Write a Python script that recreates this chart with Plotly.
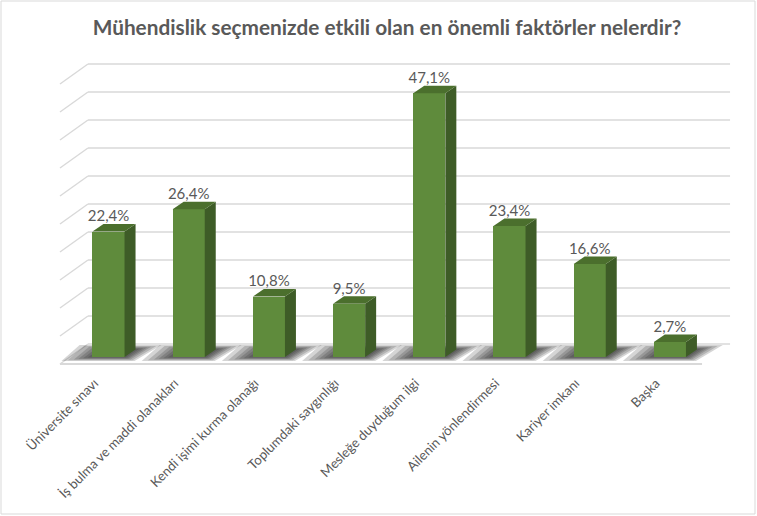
import plotly.graph_objects as go

# Survey results: factors that influenced choosing engineering (%)
categories = [
    "Üniversite sınavı",
    "İş bulma ve maddi olanakları",
    "Kendi işimi kurma olanağı",
    "Toplumdaki saygınlığı",
    "Mesleğe duyduğum ilgi",
    "Ailenin yönlendirmesi",
    "Kariyer imkanı",
    "Başka",
]
values = [22.4, 26.4, 10.8, 9.5, 47.1, 23.4, 16.6, 2.7]
grid_values = [0, 5, 10, 15, 20, 25, 30, 35, 40, 45, 50]

W, H = 757, 516
ML, MR, MT, MB = 40, 17, 55, 150
plot_w = W - ML - MR
plot_h = H - MT - MB
PX_X = 80.2   # pixels per category step
PX_Y = 5.6    # pixels per percent

x0 = -(108.5 - ML) / PX_X
x1 = x0 + plot_w / PX_X
y0 = -9 / PX_Y
y1 = y0 + plot_h / PX_Y

FRONT = "#5f8b3c"
TOP = "#4b6f2d"
SIDE = "#3e5c27"
GRID = "#d9d9d9"
TEXT = "#595959"

HALF = 0.2                 # half bar width (category units)
BDX, BDY = 11 / PX_X, 7.5 / PX_Y      # bar depth offset
WDX, WDY = 28 / PX_X, 20 / PX_Y       # side wall depth
WALL_X0 = -0.256
WALL_X1 = 7.75
WALL_SHIFT = 13 / PX_Y
FLOOR_X0 = WALL_X0 - WDX
FLOOR_X1 = WALL_X1 - WDX
FLOOR_Y = WALL_SHIFT - WDY

idx = list(range(len(categories)))
shapes = []

# back wall gridlines with their side-wall diagonals
for g in grid_values:
    yy = g + WALL_SHIFT
    shapes.append(dict(type="line", xref="x", yref="y", x0=WALL_X0, y0=yy,
                       x1=WALL_X1, y1=yy, line=dict(color=GRID, width=1.5),
                       layer="below"))
    shapes.append(dict(type="line", xref="x", yref="y", x0=FLOOR_X0, y0=yy - WDY,
                       x1=WALL_X0, y1=yy, line=dict(color=GRID, width=1.5),
                       layer="below"))

# floor front edge
shapes.append(dict(type="line", xref="x", yref="y", x0=FLOOR_X0, y0=FLOOR_Y,
                   x1=FLOOR_X1, y1=FLOOR_Y, line=dict(color=GRID, width=2),
                   layer="below"))

# soft shadows on the floor: layered translucent parallelograms that
# blend from a wide outer outline down to the bar footprint
for i in idx:
    foot = [(i - HALF, 0.0), (i + HALF, 0.0),
            (i + HALF + BDX, BDY), (i - HALF + BDX, BDY)]
    outer = [(i - 0.586, -0.71), (i + 0.324, -0.71),
             (i + 0.66, 2.14), (i - 0.36, 2.14)]
    for t in [1.0, 0.8, 0.6, 0.45, 0.3, 0.15]:
        pts = [(fx + t * (ox - fx), fy + t * (oy - fy))
               for (fx, fy), (ox, oy) in zip(foot, outer)]
        path = "M " + " L ".join(f"{px:.4f},{py:.4f}" for px, py in pts) + " Z"
        shapes.append(dict(type="path", xref="x", yref="y", path=path,
                           fillcolor="rgba(30,30,30,0.19)", line=dict(width=0),
                           layer="below"))

# border around the chart area
shapes.append(dict(type="rect", xref="paper", yref="paper",
                   x0=(1 - ML) / plot_w, x1=(755 - ML) / plot_w,
                   y0=(H - MB - 514) / plot_h, y1=(H - MB - 1) / plot_h,
                   line=dict(color="#d9d9d9", width=1)))

fig = go.Figure()

# front faces
fig.add_trace(go.Bar(x=idx, y=values, width=2 * HALF, marker=dict(color=FRONT, line=dict(width=0)),
                     hoverinfo="skip", showlegend=False))

# side and top faces computed from each value
for i, v in zip(idx, values):
    sx = [i + HALF, i + HALF + BDX, i + HALF + BDX, i + HALF, i + HALF]
    sy = [0, BDY, v + BDY, v, 0]
    fig.add_trace(go.Scatter(x=sx, y=sy, mode="lines", fill="toself", fillcolor=SIDE,
                             line=dict(width=0, color=SIDE), hoverinfo="skip", showlegend=False))
    tx = [i - HALF, i + HALF, i + HALF + BDX, i - HALF + BDX, i - HALF]
    ty = [v, v, v + BDY, v + BDY, v]
    fig.add_trace(go.Scatter(x=tx, y=ty, mode="lines", fill="toself", fillcolor=TOP,
                             line=dict(width=0, color=TOP), hoverinfo="skip", showlegend=False))

# value labels
labels = [f"{v:.1f}".replace(".", ",") + "%" for v in values]
fig.add_trace(go.Scatter(x=idx, y=[v + 14 / PX_Y for v in values], mode="text", text=labels,
                         textposition="middle center",
                         textfont=dict(family="Lato", size=15, color=TEXT),
                         hoverinfo="skip", showlegend=False))

fig.update_layout(
    width=W, height=H,
    margin=dict(l=ML, r=MR, t=MT, b=MB),
    paper_bgcolor="white", plot_bgcolor="white",
    title=dict(text="<b>Mühendislik seçmenizde etkili olan en önemli faktörler nelerdir?</b>",
               x=(387 - ML) / plot_w, xref="paper", xanchor="center",
               y=1 - 28 / H, yanchor="middle",
               font=dict(family="Lato", size=20.8, color=TEXT)),
    xaxis=dict(range=[x0, x1], tickmode="array", tickvals=idx, ticktext=categories,
               tickangle=-45, showgrid=False, zeroline=False, showline=False,
               ticks="", tickfont=dict(family="Lato", size=13.2, color=TEXT),
               ticklabelshift=-14, ticklabelstandoff=6,
               fixedrange=True),
    yaxis=dict(range=[y0, y1], showgrid=False, zeroline=False, showline=False,
               showticklabels=False, ticks="", fixedrange=True),
    shapes=shapes,
    bargap=0,
)

fig.write_html("out.html")
